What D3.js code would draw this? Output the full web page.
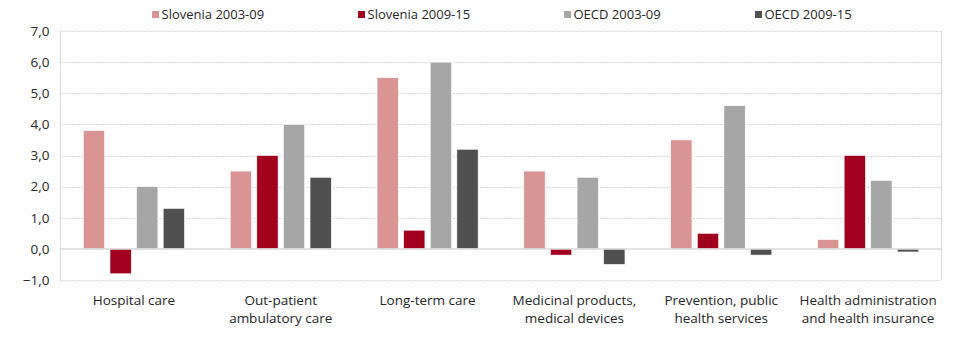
<!DOCTYPE html>
<html>
<head>
<meta charset="utf-8">
<script src="https://cdn.jsdelivr.net/npm/d3@7"></script>
<style>
  body { margin: 0; background: #fff; }
  svg text { font-family: "Open Sans", sans-serif; fill: #262626; }
</style>
</head>
<body>
<svg class="grafico" width="960" height="349"></svg>
<script>
const categorias = [
  ["Hospital care"],
  ["Out-patient", "ambulatory care"],
  ["Long-term care"],
  ["Medicinal products,", "medical devices"],
  ["Prevention, public", "health services"],
  ["Health administration", "and health insurance"]
]
const series = ["Slovenia 2003-09", "Slovenia 2009-15", "OECD 2003-09", "OECD 2009-15"]
const slo0309 = [3.8, 2.5, 5.5, 2.5, 3.5, 0.3]
const slo0915 = [-0.8, 3.0, 0.6, -0.2, 0.5, 3.0]
const oecd0309 = [2.0, 4.0, 6.0, 2.3, 4.6, 2.2]
const oecd0915 = [1.3, 2.3, 3.2, -0.5, -0.2, -0.1]
const yTicks = [-1, 0, 1, 2, 3, 4, 5, 6, 7]
const colores = ["#d99594", "#a0001e", "#a6a6a6", "#505050"]

const valores = [slo0309, slo0915, oecd0309, oecd0915]
const ids = categorias.map((c, i) => i)

const margin = {left: 60.5, right: 18.5, top: 31, bottom: 69}
const width = 960, height = 349

const svg = d3.select('.grafico')

const x0 = d3.scaleBand()
  .domain(ids)
  .range([margin.left, width - margin.right])
  .paddingInner(0.275)
  .paddingOuter(0.1375)

const x1 = d3.scaleBand()
  .domain(series)
  .range([0, x0.bandwidth()])
  .paddingInner(0.2)
  .paddingOuter(0.1)

const y = d3.scaleLinear()
  .domain([-1, 7])
  .range([height - margin.bottom, margin.top])

// grid lines (dotted), zero line drawn separately
svg.append('g')
  .selectAll('line')
  .data(yTicks.filter(t => t !== 0))
  .join('line')
  .attr('x1', margin.left)
  .attr('x2', width - margin.right)
  .attr('y1', d => Math.round(y(d)) + 0.5)
  .attr('y2', d => Math.round(y(d)) + 0.5)
  .attr('stroke', '#b5b5b5')
  .attr('stroke-dasharray', '1,2')

// left and right frame
svg.append('line')
  .attr('x1', margin.left).attr('x2', margin.left)
  .attr('y1', y(7)).attr('y2', y(-1))
  .attr('stroke', '#d9d9d9')
svg.append('line')
  .attr('x1', width - margin.right).attr('x2', width - margin.right)
  .attr('y1', y(7)).attr('y2', y(-1))
  .attr('stroke', '#d9d9d9')

// y axis labels
const yAxis = d3.axisLeft(y)
  .tickValues(yTicks)
  .tickFormat(d => d3.format('.1f')(d).replace('.', ','))
  .tickSize(0)
  .tickPadding(11)

svg.append('g')
  .attr('transform', `translate(${margin.left},0)`)
  .call(yAxis)
  .call(g => g.select('.domain').remove())
  .selectAll('text')
  .attr('font-size', 13.5)
  .attr('fill', '#262626')
  .style('font-family', '"Open Sans", sans-serif')

// bars
const grupos = svg.append('g')
  .selectAll('g')
  .data(ids)
  .join('g')
  .attr('transform', d => `translate(${x0(d)},0)`)

grupos.selectAll('rect')
  .data(i => series.map((s, j) => ({serie: s, j: j, valor: valores[j][i]})))
  .join('rect')
  .attr('x', d => x1(d.serie))
  .attr('width', x1.bandwidth())
  .attr('y', d => y(Math.max(0, d.valor)))
  .attr('height', d => Math.abs(y(d.valor) - y(0)))
  .attr('fill', d => colores[d.j])
  .attr('stroke', '#fff')
  .attr('stroke-width', 0.6)

// zero line on top of bars
svg.append('line')
  .attr('x1', margin.left).attr('x2', width - margin.right)
  .attr('y1', y(0)).attr('y2', y(0))
  .attr('stroke', '#d9d9d9')
  .attr('stroke-width', 1.5)

// category labels
const etiquetas = svg.append('g')
  .selectAll('text')
  .data(ids)
  .join('text')
  .attr('x', d => x0(d) + x0.bandwidth() / 2)
  .attr('y', 305)
  .attr('text-anchor', 'middle')
  .attr('font-size', 13.5)

etiquetas.selectAll('tspan')
  .data(d => categorias[d])
  .join('tspan')
  .attr('x', function () { return this.parentNode.getAttribute('x') })
  .attr('dy', (d, i) => i === 0 ? 0 : 18)
  .text(d => d)

// legend
const legendX = [152, 358, 564, 755]
const leyenda = svg.append('g')
  .selectAll('g')
  .data(series)
  .join('g')
  .attr('transform', (d, i) => `translate(${legendX[i]},11)`)

leyenda.append('rect')
  .attr('width', 7)
  .attr('height', 7)
  .attr('fill', (d, i) => colores[i])

leyenda.append('text')
  .attr('x', 9.5)
  .attr('y', 8)
  .attr('font-size', 13)
  .text(d => d)
</script>
</body>
</html>
